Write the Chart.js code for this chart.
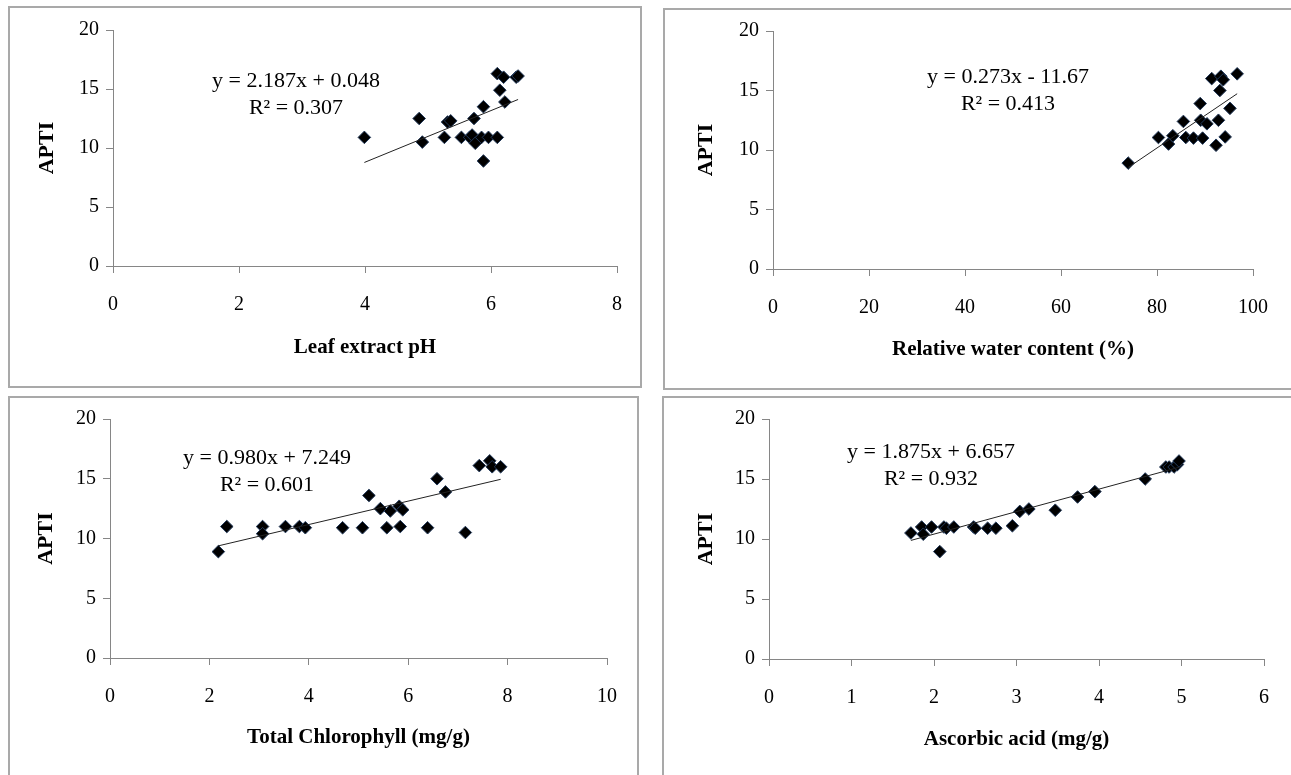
<!DOCTYPE html>
<html>
<head>
<meta charset="utf-8">
<title>APTI correlations</title>
<script src="https://cdn.jsdelivr.net/npm/chart.js@4.4.1/dist/chart.umd.min.js"></script>
<style>
  html, body { margin: 0; padding: 0; background: #fff; }
  body { position: relative; width: 1291px; height: 775px; overflow: hidden; }
  .frame { position: absolute; box-sizing: border-box; border: 2px solid #a9a9a9; }
  canvas { position: absolute; }
</style>
</head>
<body>
<script>
// APTI against leaf extract pH
const phX = [3.99, 4.86, 4.91, 5.26, 5.31, 5.36, 5.53, 5.66, 5.70, 5.73, 5.75, 5.85, 5.88, 5.88, 5.96, 6.10, 6.10, 6.14, 6.20, 6.22, 6.40, 6.43];
const phY = [10.9, 12.5, 10.5, 10.9, 12.2, 12.3, 10.9, 10.9, 11.1, 12.5, 10.4, 10.9, 13.5, 8.9, 10.9, 10.9, 16.3, 14.9, 16.0, 13.9, 16.0, 16.1];
const phFit = [2.187, 0.048];
const phEquation = ['y = 2.187x + 0.048', 'R² = 0.307'];

// APTI against relative water content
const rwcX = [74.0, 80.3, 82.4, 83.3, 85.5, 86.0, 87.6, 89.0, 89.1, 89.5, 90.4, 91.4, 92.3, 92.8, 93.1, 93.3, 93.8, 94.2, 95.2, 96.7];
const rwcY = [8.9, 11.05, 10.5, 11.2, 12.4, 11.05, 11.0, 13.9, 12.5, 11.0, 12.2, 16.0, 10.4, 12.5, 15.0, 16.2, 15.9, 11.1, 13.5, 16.4];
const rwcFit = [0.273, -11.67];
const rwcEquation = ['y = 0.273x - 11.67', 'R² = 0.413'];

// APTI against total chlorophyll
const chlX = [2.18, 2.35, 3.07, 3.07, 3.53, 3.81, 3.93, 4.68, 5.08, 5.21, 5.44, 5.57, 5.64, 5.82, 5.84, 5.89, 6.39, 6.58, 6.75, 7.15, 7.43, 7.64, 7.69, 7.86];
const chlY = [8.9, 11.0, 11.0, 10.4, 11.0, 11.0, 10.9, 10.9, 10.9, 13.6, 12.5, 10.9, 12.3, 12.7, 11.0, 12.4, 10.9, 15.0, 13.9, 10.5, 16.1, 16.5, 16.0, 16.0];
const chlFit = [0.980, 7.249];
const chlEquation = ['y = 0.980x + 7.249', 'R² = 0.601'];

// APTI against ascorbic acid
const aaX = [1.72, 1.85, 1.87, 1.97, 2.07, 2.12, 2.15, 2.24, 2.48, 2.50, 2.65, 2.75, 2.95, 3.04, 3.15, 3.47, 3.74, 3.95, 4.56, 4.81, 4.85, 4.91, 4.95, 4.97];
const aaY = [10.5, 11.0, 10.4, 11.0, 8.95, 11.0, 10.9, 11.0, 11.0, 10.9, 10.9, 10.9, 11.1, 12.3, 12.5, 12.4, 13.5, 13.95, 15.0, 16.0, 16.0, 16.0, 16.2, 16.5];
const aaFit = [1.875, 6.657];
const aaEquation = ['y = 1.875x + 6.657', 'R² = 0.932'];

const yTicks = [0, 20, 5];      // min, max, step
const yLabel = 'APTI';

const PAGE_W = 1291, PAGE_H = 775;
const SERIF = '"Liberation Serif", "Times New Roman", serif';
const AXIS_GREY = '#868686';

// page layout, in page pixels
const panels = [
    { xs: phX, ys: phY, fit: phFit, eq: phEquation, xTicks: [0, 8, 2], xTitle: 'Leaf extract pH',
      frame: [8, 6, 642, 388], area: [113, 30, 617, 266], xTitleY: 348, yTitleX: 47, eqPos: [296, 81, 108] },
    { xs: rwcX, ys: rwcY, fit: rwcFit, eq: rwcEquation, xTicks: [0, 100, 20], xTitle: 'Relative water content (%)',
      frame: [663, 8, 1293, 390], area: [773, 31, 1253, 269], xTitleY: 350, yTitleX: 706, eqPos: [1008, 77, 104] },
    { xs: chlX, ys: chlY, fit: chlFit, eq: chlEquation, xTicks: [0, 10, 2], xTitle: 'Total Chlorophyll (mg/g)',
      frame: [8, 396, 639, 777], area: [110, 419, 607, 658], xTitleY: 738, yTitleX: 46, eqPos: [267, 458, 485] },
    { xs: aaX, ys: aaY, fit: aaFit, eq: aaEquation, xTicks: [0, 6, 1], xTitle: 'Ascorbic acid (mg/g)',
      frame: [662, 396, 1293, 777], area: [769, 419, 1264, 659], xTitleY: 740, yTitleX: 706, eqPos: [931, 452, 479] }
];

function makePanel(p) {
    const ox = p.frame[0], oy = p.frame[1];

    const frame = document.createElement('div');
    frame.className = 'frame';
    frame.style.left = ox + 'px';
    frame.style.top = oy + 'px';
    frame.style.width = (p.frame[2] - ox) + 'px';
    frame.style.height = (p.frame[3] - oy) + 'px';
    document.body.appendChild(frame);

    const w = Math.min(p.frame[2], PAGE_W) - ox;
    const h = Math.min(p.frame[3], PAGE_H) - oy;
    const canvas = document.createElement('canvas');
    canvas.width = w;
    canvas.height = h;
    canvas.style.left = ox + 'px';
    canvas.style.top = oy + 'px';
    canvas.style.width = w + 'px';
    canvas.style.height = h + 'px';
    document.body.appendChild(canvas);

    const areaL = p.area[0] - ox, areaT = p.area[1] - oy;
    const areaR = p.area[2] - ox, areaB = p.area[3] - oy;

    const points = p.xs.map((x, i) => ({ x: x, y: p.ys[i] }));
    const x0 = Math.min(...p.xs), x1 = Math.max(...p.xs);
    const trend = [
        { x: x0, y: p.fit[0] * x0 + p.fit[1] },
        { x: x1, y: p.fit[0] * x1 + p.fit[1] }
    ];

    const tickFont = { family: SERIF, size: 20 };
    const xTitleFont = { family: SERIF, size: 21, weight: 'bold' };
    const yTitleFont = { family: SERIF, size: 22, weight: 'bold' };

    const equationLabel = {
        id: 'equationLabel',
        afterDatasetsDraw(chart) {
            const ctx = chart.ctx;
            ctx.save();
            ctx.fillStyle = '#000';
            ctx.font = '22px ' + SERIF;
            ctx.textAlign = 'center';
            ctx.textBaseline = 'middle';
            ctx.fillText(p.eq[0], p.eqPos[0] - ox, p.eqPos[1] - oy);
            ctx.fillText(p.eq[1], p.eqPos[0] - ox, p.eqPos[2] - oy);
            ctx.restore();
        }
    };

    new Chart(canvas, {
        type: 'scatter',
        data: {
            datasets: [
                {
                    type: 'line',
                    data: trend,
                    borderColor: '#222',
                    borderWidth: 1,
                    pointRadius: 0,
                    fill: false
                },
                {
                    data: points,
                    pointStyle: 'rectRot',
                    pointRadius: 6.3,
                    pointHoverRadius: 6.3,
                    backgroundColor: '#000',
                    borderColor: '#22395a',
                    borderWidth: 1
                }
            ]
        },
        options: {
            responsive: false,
            animation: false,
            devicePixelRatio: 1,
            layout: { padding: { left: 0, top: areaT, right: w - areaR, bottom: 0 } },
            plugins: { legend: { display: false }, tooltip: { enabled: false } },
            scales: {
                x: {
                    type: 'linear',
                    min: p.xTicks[0],
                    max: p.xTicks[1],
                    ticks: { stepSize: p.xTicks[2], padding: 20, color: '#000', font: tickFont, maxRotation: 0 },
                    grid: { drawOnChartArea: false, tickLength: 7, color: AXIS_GREY },
                    border: { color: AXIS_GREY },
                    title: {
                        display: true, text: p.xTitle, color: '#000', font: xTitleFont,
                        padding: { top: 0, bottom: h - (p.xTitleY - oy) - 21 * 1.2 / 2 }
                    },
                    afterFit: s => { s.height = h - areaB; }
                },
                y: {
                    type: 'linear',
                    min: yTicks[0],
                    max: yTicks[1],
                    ticks: { stepSize: yTicks[2], padding: 7, color: '#000', font: tickFont },
                    grid: { drawOnChartArea: false, tickLength: 7, color: AXIS_GREY },
                    border: { color: AXIS_GREY },
                    title: {
                        display: true, text: yLabel, color: '#000', font: yTitleFont,
                        padding: { top: (p.yTitleX - ox) - 22 * 1.2 / 2, bottom: 0 }
                    },
                    afterFit: s => { s.width = areaL; }
                }
            }
        },
        plugins: [equationLabel]
    });
}

panels.forEach(makePanel);
</script>
</body>
</html>
